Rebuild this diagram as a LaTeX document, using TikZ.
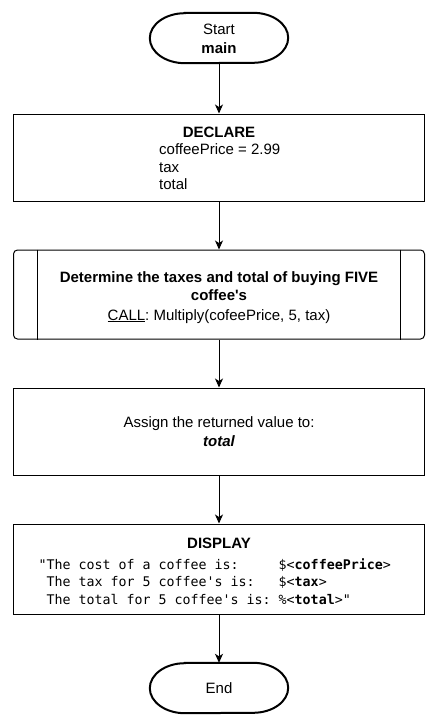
\documentclass[tikz,border=0pt]{standalone}
\usepackage{fontspec}
\newfontfamily\arialf{Liberation Sans}
\newfontfamily\monof{DejaVu Sans Mono}
\usetikzlibrary{arrows.meta}
\begin{document}
\frenchspacing
\begin{tikzpicture}[x=1pt,y=-1pt,
  box/.style={draw=black, line width=1pt, minimum width=411pt, inner sep=0pt},
  termbox/.style={minimum width=138pt, minimum height=50pt, inner sep=0pt},
  termline/.style={draw=black, line width=2pt},
  txt/.style={inner sep=0pt, anchor=base, font=\arialf\fontsize{15}{18}\selectfont},
  bold/.style={txt, font=\arialf\bfseries\fontsize{15}{18}\selectfont},
  mono/.style={inner sep=0pt, anchor=base west, font=\monof\fontsize{13.3}{16}\selectfont},
  flow/.style={draw=black, line width=1pt, -{Stealth[length=9pt,width=8pt,inset=2.5pt]}}
]
\useasboundingbox (0,0) rectangle (438,725);

% terminals
\node[termbox] (start) at (219,38) {};
\draw[termline] ([xshift=35pt]start.north west) -- ([xshift=-35pt]start.north east)
  arc[start angle=-90, end angle=90, x radius=35, y radius=25]
  -- ([xshift=35pt]start.south west)
  arc[start angle=90, end angle=270, x radius=35, y radius=25] -- cycle;
\node[termbox] (stop) at (219,688) {};
\draw[termline] ([xshift=35pt]stop.north west) -- ([xshift=-35pt]stop.north east)
  arc[start angle=-90, end angle=90, x radius=35, y radius=25]
  -- ([xshift=35pt]stop.south west)
  arc[start angle=90, end angle=270, x radius=35, y radius=25] -- cycle;

% boxes
\node[box, minimum height=87pt] (declare) at (219,157.5) {};
\node[box, minimum height=89pt, rounded corners=4pt] (sub) at (219,294.5) {};
\draw[line width=1pt] ([xshift=24.5pt]sub.north west) -- ([xshift=24.5pt]sub.south west);
\draw[line width=1pt] ([xshift=-24.5pt]sub.north east) -- ([xshift=-24.5pt]sub.south east);
\node[box, minimum height=87pt] (assign) at (219,431.5) {};
\node[box, minimum height=90pt] (display) at (219,569) {};

% connectors
\draw[flow] (start) -- (declare);
\draw[flow] (declare) -- (sub);
\draw[flow] (sub) -- (assign);
\draw[flow] (assign) -- (display);
\draw[flow] (display) -- (stop);

% texts
\node[txt] (tstart) at (219,35) {Start};
\node[bold] (tmain) at (219,53) {main};
\node[txt] (tend) at (219,693) {End};

\node[bold] (tdecl) at (219,137) {DECLARE};
\node[txt, anchor=base west] (td1) at (159,154.5) {coffeePrice = 2.99};
\node[txt, anchor=base west] (td2) at (159,172) {tax};
\node[txt, anchor=base west] (td3) at (159,189) {total};

\node[bold] (ts1) at (219,282) {Determine the taxes and total of buying FIVE};
\node[bold] (ts2) at (219,300.5) {coffee's};
\node[txt] (ts3) at (219,320) {\underline{CALL}: Multiply(cofeePrice, 5, tax)};

\node[txt] (ta1) at (219,427) {Assign the returned value to:};
\node[txt, font=\arialf\bfseries\itshape\fontsize{15}{18}\selectfont] (ta2) at (219,446) {total};

\node[bold] (tdisp) at (219,548.3) {DISPLAY};
\node[mono] (tm1) at (38.3,569) {"The cost of a coffee is:\hphantom{00000}\$<\textbf{coffeePrice}>};
\node[mono] (tm2) at (38.3,586.8) {\hphantom{0}The tax for 5 coffee's is:\hphantom{000}\$<\textbf{tax}>};
\node[mono] (tm3) at (38.3,604.4) {\hphantom{0}The total for 5 coffee's is:\hphantom{0}\%<\textbf{total}>"};
\end{tikzpicture}
\end{document}
